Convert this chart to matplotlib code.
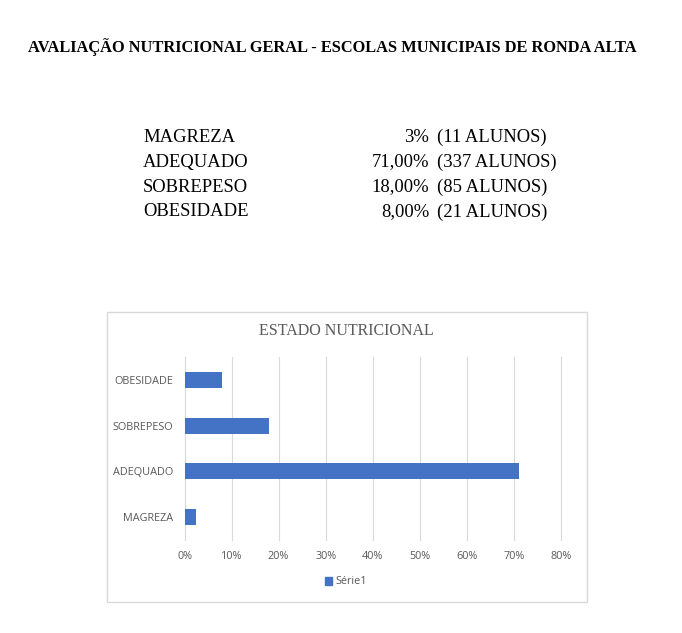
import matplotlib.pyplot as plt
from matplotlib.patches import Rectangle
from matplotlib.ticker import FuncFormatter

title = "AVALIAÇÃO NUTRICIONAL GERAL - ESCOLAS MUNICIPAIS DE RONDA ALTA"
categories = ["MAGREZA", "ADEQUADO", "SOBREPESO", "OBESIDADE"]
pct_labels = ["3%", "71,00%", "18,00%", "8,00%"]
student_labels = ["(11 ALUNOS)", "(337 ALUNOS)", "(85 ALUNOS)", "(21 ALUNOS)"]
values = [0.0237, 0.71, 0.18, 0.08]
xticks = [0, 0.1, 0.2, 0.3, 0.4, 0.5, 0.6, 0.7, 0.8]

W, H = 682, 633
fig = plt.figure(figsize=(W / 100, H / 100), dpi=100)
fig.patch.set_facecolor("white")


def fx(px):
    return px / W


def fy(py):
    return 1 - py / H


serif = "Liberation Serif"
sans = "Open Sans"
gray = "#595959"

fig.text(fx(28), fy(47), title, fontfamily=serif, fontweight="bold",
         fontsize=11.75, ha="left", va="center", color="black")

for i, (cat, p, s) in enumerate(zip(categories, pct_labels, student_labels)):
    y = fy(137 + 25 * i)
    fig.text(fx(143), y, cat, fontfamily=serif, fontsize=13.4, ha="left", va="center")
    fig.text(fx(429), y, p, fontfamily=serif, fontsize=13.4, ha="right", va="center")
    fig.text(fx(437), y, s, fontfamily=serif, fontsize=13.4, ha="left", va="center")

# chart frame
fig.patches.append(Rectangle((fx(107), fy(602)), fx(587) - fx(107), fy(312) - fy(602),
                             transform=fig.transFigure, fill=False,
                             edgecolor="#D9D9D9", linewidth=1.0))
fig.text(fx(346), fy(331), "ESTADO NUTRICIONAL", fontfamily=serif, fontsize=11.5,
         color=gray, ha="center", va="center")

ax = fig.add_axes([fx(184.5), fy(540), fx(561) - fx(184.5), fy(357) - fy(540)])
pos = list(range(len(categories)))
ax.barh(pos, values, height=0.35, color="#4472C4", zorder=3)
ax.set_xlim(0, 0.8)
ax.set_ylim(-0.5, 3.5)
ax.set_xticks(xticks)
ax.xaxis.set_major_formatter(FuncFormatter(lambda v, _: f"{v * 100:.0f}%"))
ax.set_yticks(pos)
ax.set_yticklabels(categories)
ax.grid(axis="x", color="#D9D9D9", linewidth=0.8, zorder=0)
for gl in ax.get_xgridlines():
    gl.set_clip_on(False)
for sp in ax.spines.values():
    sp.set_visible(False)
ax.tick_params(length=0, labelsize=7.8, labelcolor=gray)
for lab in ax.get_xticklabels() + ax.get_yticklabels():
    lab.set_fontfamily(sans)
ax.tick_params(axis="x", pad=8)
ax.tick_params(axis="y", pad=8)

handle = Rectangle((0, 0), 1, 1, color="#4472C4")
fig.legend([handle], ["Série1"], loc="center", bbox_to_anchor=(fx(346), fy(582)),
           frameon=False, prop={"family": sans, "size": 7.8}, handlelength=0.7,
           handleheight=0.7, handletextpad=0.3, labelcolor=gray)

fig.savefig("out.png", dpi=100)
